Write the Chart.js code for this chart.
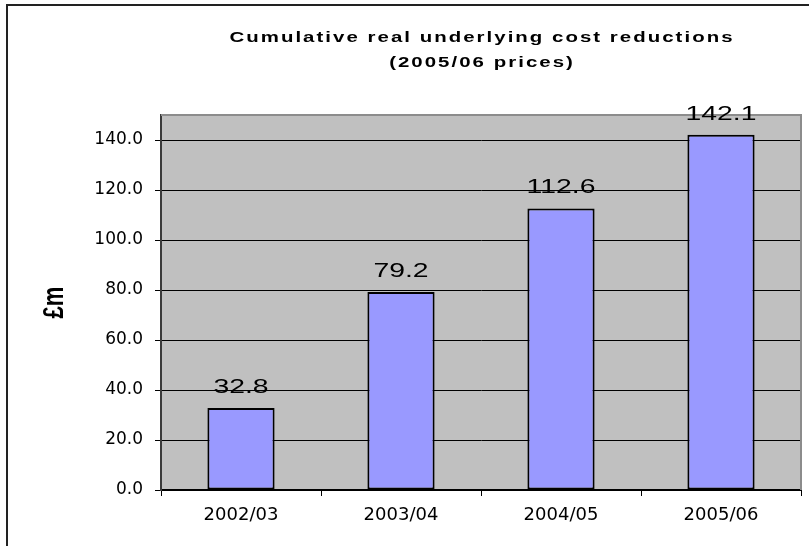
<!DOCTYPE html>
<html>
<head>
<meta charset="utf-8">
<script src="https://cdn.jsdelivr.net/npm/chart.js@4/dist/chart.umd.min.js"></script>
<style>
    html, body { margin: 0; padding: 0; background: #fff; }
    #wrap { width: 809px; height: 546px; }
</style>
</head>
<body>
<div id="wrap"><canvas id="chart" width="809" height="546"></canvas></div>
<script>
/* ===== Data ===== */

var years = ['2002/03', '2003/04', '2004/05', '2005/06'];
var reductions = [32.8, 79.2, 112.6, 142.1];
var titleLines = ['Cumulative real underlying cost reductions', '(2005/06 prices)'];
var yAxisTitle = '£m';

var font = '"Liberation Sans", Arial, sans-serif';
var tickFont = '"DejaVu Sans", sans-serif';

/* ===== Plugins ===== */

// white page, outer frame, grey plot area
var backdrop = {
    id: 'backdrop',
    beforeDraw: function(chart) {
        var ctx = chart.ctx;
        var a = chart.chartArea;
        ctx.save();
        ctx.fillStyle = '#fff';
        ctx.fillRect(0, 0, chart.width, chart.height);
        ctx.strokeStyle = '#222';
        ctx.lineWidth = 2;
        ctx.strokeRect(7, 5, chart.width + 20, chart.height + 20);
        ctx.fillStyle = '#C0C0C0';
        ctx.fillRect(a.left, a.top, a.right - a.left, a.bottom - a.top);
        ctx.restore();
    },
    beforeDatasetsDraw: function(chart) {
        var ctx = chart.ctx;
        var a = chart.chartArea;
        ctx.save();
        ctx.strokeStyle = '#8c8c8c';
        ctx.lineWidth = 2;
        ctx.beginPath();
        ctx.moveTo(a.left, a.top);
        ctx.lineTo(a.right, a.top);
        ctx.lineTo(a.right, a.bottom);
        ctx.stroke();
        ctx.restore();
    },
};

// text in the original is drawn a bit wide, so stretch it horizontally
function wideText(ctx, text, x, y, sx) {
    ctx.save();
    ctx.translate(x, y);
    ctx.scale(sx, 1);
    ctx.fillText(text, 0, 0);
    ctx.restore();
}

// two-line title centred over the plot area, plus the y axis title
var titles = {
    id: 'titles',
    afterDraw: function(chart) {
        var ctx = chart.ctx;
        var a = chart.chartArea;
        var cx = (a.left + a.right) / 2;
        ctx.save();
        ctx.fillStyle = '#000';
        ctx.font = 'bold 15px ' + font;
        ctx.letterSpacing = '1.5px';
        ctx.textAlign = 'center';
        ctx.textBaseline = 'middle';
        titleLines.forEach(function(line, i) {
            wideText(ctx, line, cx + 1, 38 + i * 25, 1.36);
        });
        ctx.letterSpacing = '0px';

        // "£m", rotated to read bottom to top
        ctx.font = 'bold 22px ' + font;
        ctx.translate(55, (a.top + a.bottom) / 2);
        ctx.rotate(-Math.PI / 2);
        ctx.scale(1, 1.35);
        ctx.fillText(yAxisTitle, 0, 0);
        ctx.restore();
    },
};

// value labels above each bar
var barLabels = {
    id: 'barLabels',
    afterDatasetsDraw: function(chart) {
        var ctx = chart.ctx;
        var meta = chart.getDatasetMeta(0);
        ctx.save();
        ctx.fillStyle = '#000';
        ctx.font = '21px ' + font;
        ctx.textAlign = 'center';
        ctx.textBaseline = 'middle';
        meta.data.forEach(function(bar, i) {
            wideText(ctx, reductions[i].toFixed(1), bar.x, bar.y - 21, 1.35);
        });
        ctx.restore();
    },
};

/* ===== Chart ===== */

new Chart(document.getElementById('chart'), {
    type: 'bar',
    data: {
        labels: years,
        datasets: [{
            data: reductions,
            backgroundColor: '#9999FF',
            borderColor: '#000',
            borderWidth: 2,
            borderSkipped: false,
            barPercentage: 0.42,
            categoryPercentage: 1,
        }],
    },
    options: {
        responsive: false,
        animation: false,
        layout: { padding: { top: 115, left: 0, right: 8, bottom: 0 } },
        plugins: {
            legend: { display: false },
            tooltip: { enabled: false },
            title: { display: false },
        },
        scales: {
            x: {
                afterFit: function(scale) { scale.height = 56; },
                grid: {
                    offset: true,
                    drawOnChartArea: false,
                    color: '#000',
                    tickLength: 6,
                },
                border: { display: true, color: '#000', width: 2 },
                ticks: {
                    color: '#000',
                    font: { family: tickFont, size: 18 },
                    padding: 9,
                    maxRotation: 0,
                },
            },
            y: {
                min: 0,
                max: 150,
                afterFit: function(scale) { scale.width = 161; },
                afterBuildTicks: function(scale) {
                    scale.ticks = scale.ticks.filter(function(t) { return t.value % 20 === 0; });
                },
                grid: {
                    color: '#000',
                    lineWidth: 1,
                    tickLength: 6,
                },
                border: { display: true, color: '#3a3a3a', width: 2 },
                ticks: {
                    stepSize: 20,
                    color: '#000',
                    font: { family: tickFont, size: 17 },
                    padding: 12,
                    callback: function(v) { return Number(v).toFixed(1); },
                },
            },
        },
    },
    plugins: [backdrop, titles, barLabels],
});
</script>
</body>
</html>
